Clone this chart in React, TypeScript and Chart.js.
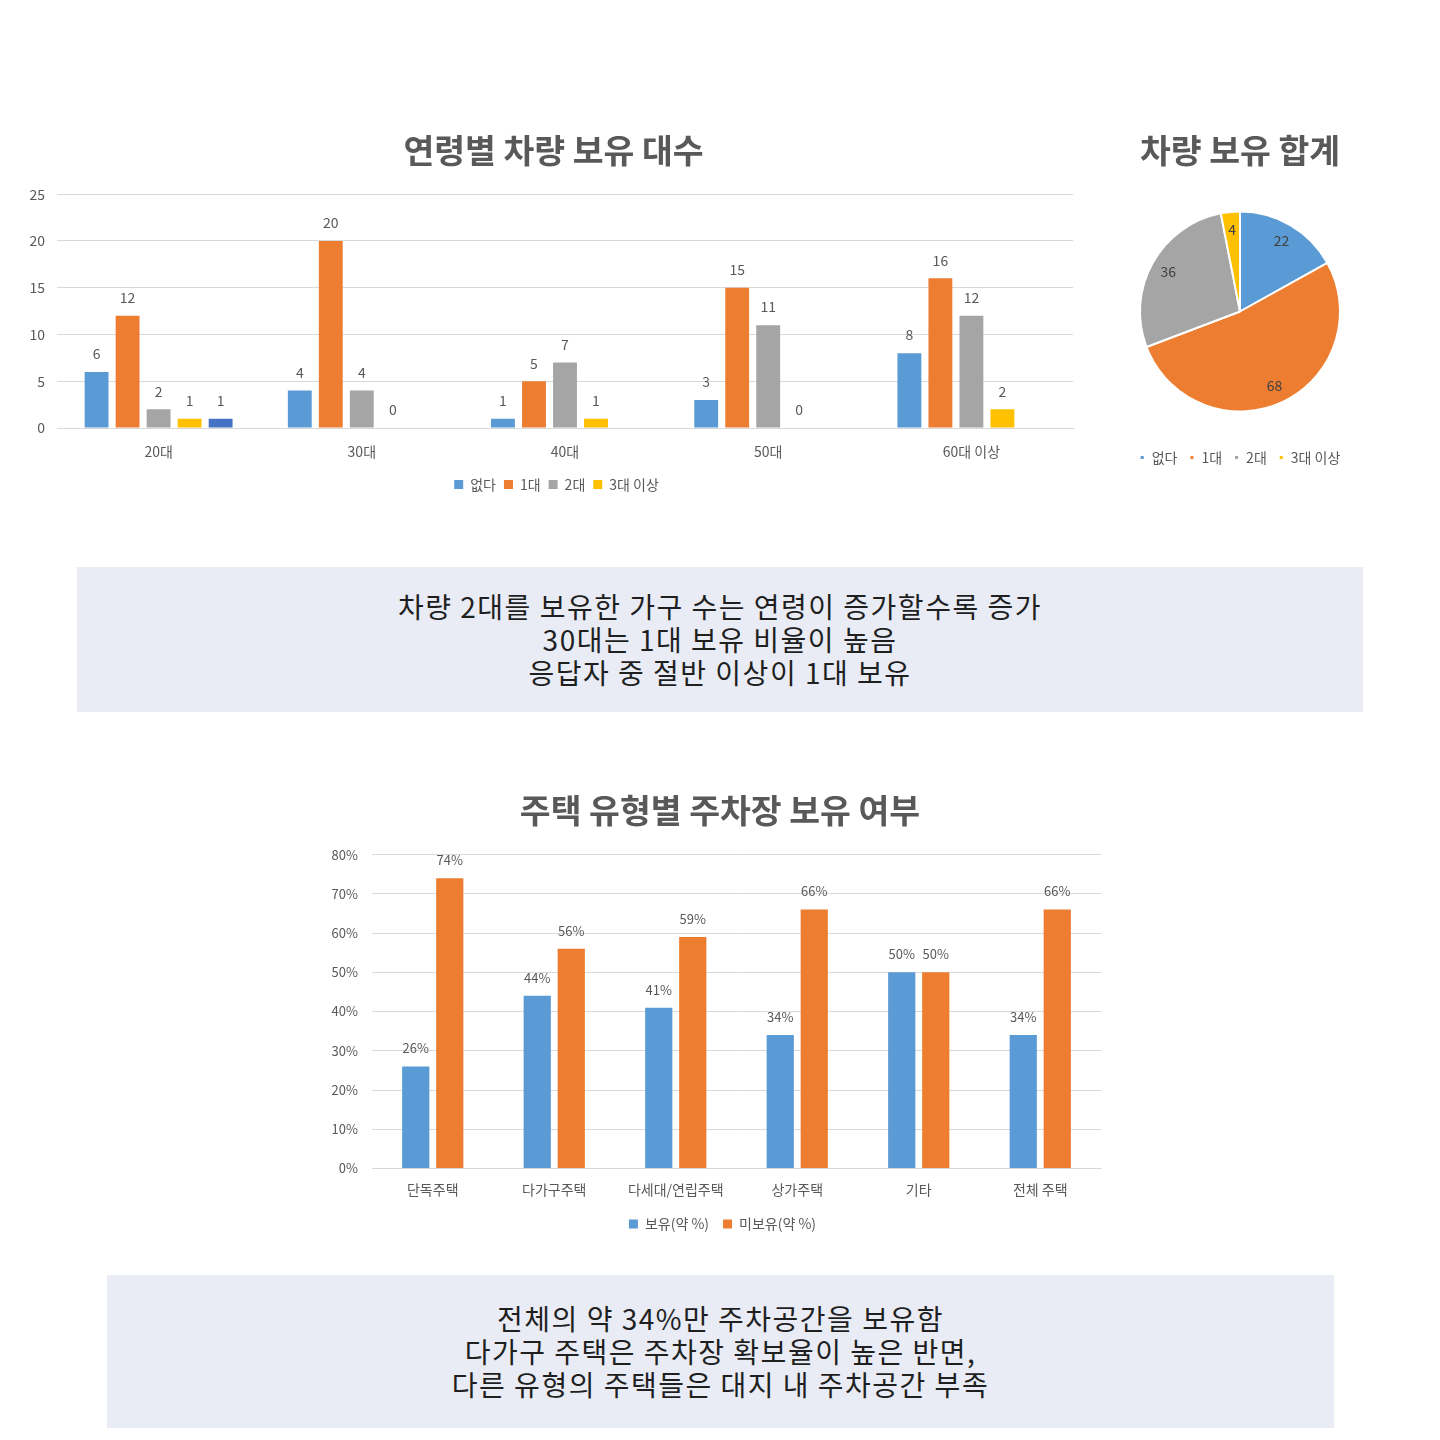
import React, { useEffect, useRef } from "react";
import { Chart, registerables } from "chart.js";

Chart.register(...registerables);

const FONT = "'Noto Sans CJK KR', 'Noto Sans', sans-serif";
Chart.defaults.font.family = FONT;

// ---- Data: chart 1 (연령별 차량 보유 대수)
const ageCategories = ["20대", "30대", "40대", "50대", "60대 이상"];
const ownershipNames = ["없다", "1대", "2대", "3대 이상"];
const noneValues = [6, 4, 1, 3, 8];
const oneValues = [12, 20, 5, 15, 16];
const twoValues = [2, 4, 7, 11, 12];
const threePlusValues = [1, 0, 1, 0, 2];
const extraValues: (number | null)[] = [1, null, null, null, null];
const ageAxisMax = 25;
const ageAxisStep = 5;

// ---- Data: pie (차량 보유 합계)
const totalLabels = ownershipNames;
const totalValues = [22, 68, 36, 4];

// ---- Data: chart 2 (주택 유형별 주차장 보유 여부)
const housingCategories = ["단독주택", "다가구주택", "다세대/연립주택", "상가주택", "기타", "전체 주택"];
const housingSeriesNames = ["보유(약 %)", "미보유(약 %)"];
const ownValues = [26, 44, 41, 34, 50, 34];
const notOwnValues = [74, 56, 59, 66, 50, 66];
const housingAxisMax = 80;
const housingAxisStep = 10;

const BLUE = "#5B9BD5";
const ORANGE = "#ED7D31";
const GRAY = "#A5A5A5";
const YELLOW = "#FFC000";
const DARKBLUE = "#4472C4";
const TEXT = "#595959";
const GRID = "#D9D9D9";
const TITLE_SIZE = 33.5;

const barLabelPlugin = (suffix: string, offset: number, size: number) => ({
  id: "barLabels",
  afterDatasetsDraw(chart: any) {
    const ctx = chart.ctx;
    ctx.save();
    ctx.font = `${size}px ${FONT}`;
    ctx.fillStyle = TEXT;
    ctx.textAlign = "center";
    ctx.textBaseline = "middle";
    chart.data.datasets.forEach((ds: any, di: number) => {
      const meta = chart.getDatasetMeta(di);
      meta.data.forEach((el: any, i: number) => {
        const v = ds.data[i];
        if (v === null || v === undefined) return;
        ctx.fillText(String(v) + suffix, el.x, el.y - offset);
      });
    });
    ctx.restore();
  },
});

// shifts the title and legend boxes horizontally after layout
const shiftPlugin = (titleDx: number, legendDx: number) => ({
  id: "shiftBoxes",
  afterLayout(chart: any) {
    const t = chart.titleBlock;
    if (t) {
      t.left += titleDx;
      t.right += titleDx;
    }
    const l = chart.legend;
    if (l) {
      l.left += legendDx;
      l.right += legendDx;
    }
  },
});

const pieLabelPlugin = {
  id: "pieLabels",
  afterDatasetsDraw(chart: any) {
    const ctx = chart.ctx;
    ctx.save();
    ctx.font = `14px ${FONT}`;
    ctx.fillStyle = "#404040";
    ctx.textAlign = "center";
    ctx.textBaseline = "middle";
    const meta = chart.getDatasetMeta(0);
    meta.data.forEach((el: any, i: number) => {
      const mid = (el.startAngle + el.endAngle) / 2;
      const r = el.outerRadius * 0.82;
      ctx.fillText(String(chart.data.datasets[0].data[i]), el.x + Math.cos(mid) * r, el.y + Math.sin(mid) * r);
    });
    ctx.restore();
  },
};

function ChartCanvas({ left, top, width, height, makeConfig }: any) {
  const ref = useRef<HTMLCanvasElement | null>(null);
  useEffect(() => {
    if (!ref.current) return;
    const chart = new Chart(ref.current, makeConfig());
    return () => chart.destroy();
  }, []);
  return (
    <canvas
      ref={ref}
      width={width}
      height={height}
      style={{ position: "absolute", left, top, width, height }}
    />
  );
}

const ageConfig = (): any => ({
  type: "bar",
  data: {
    labels: ageCategories,
    datasets: [
      { label: ownershipNames[0], data: noneValues, backgroundColor: BLUE },
      { label: ownershipNames[1], data: oneValues, backgroundColor: ORANGE },
      { label: ownershipNames[2], data: twoValues, backgroundColor: GRAY },
      { label: ownershipNames[3], data: threePlusValues, backgroundColor: YELLOW },
      { label: "", data: extraValues, backgroundColor: DARKBLUE },
    ],
  },
  options: {
    responsive: false,
    animation: false,
    devicePixelRatio: 1,
    datasets: { bar: { categoryPercentage: 0.763, barPercentage: 0.77 } },
    layout: { padding: { left: 0, right: 17, top: 0, bottom: 8.5 } },
    plugins: {
      title: {
        display: true,
        text: "연령별 차량 보유 대수",
        color: TEXT,
        font: { size: TITLE_SIZE, weight: "bold", family: FONT },
        padding: { top: 5, bottom: 24 },
      },
      legend: {
        position: "bottom",
        labels: {
          boxWidth: 9,
          boxHeight: 9,
          color: TEXT,
          font: { size: 14, family: FONT },
          padding: 8,
          filter: (item: any) => item.datasetIndex < 4,
        },
      },
      tooltip: { enabled: false },
    },
    scales: {
      y: {
        min: 0,
        max: ageAxisMax,
        afterFit: (s: any) => { s.width = 37; },
        ticks: { stepSize: ageAxisStep, color: TEXT, font: { size: 14 }, padding: 12 },
        grid: { color: GRID, drawTicks: false },
        border: { display: false },
      },
      x: {
        afterFit: (s: any) => { s.height = 41.5; },
        grid: { display: false, drawTicks: false },
        border: { color: GRID },
        ticks: { color: TEXT, font: { size: 14 }, padding: 15 },
      },
    },
  },
  plugins: [barLabelPlugin("", 18, 14), shiftPlugin(7, 10)],
});

const pieConfig = (): any => ({
  type: "pie",
  data: {
    labels: totalLabels,
    datasets: [
      {
        data: totalValues,
        backgroundColor: [BLUE, ORANGE, GRAY, YELLOW],
        borderColor: "#ffffff",
        borderWidth: 2,
        radius: 100,
      },
    ],
  },
  options: {
    responsive: false,
    animation: false,
    devicePixelRatio: 1,
    layout: { padding: { left: 0, right: 0, top: 0, bottom: 5.5 } },
    plugins: {
      title: {
        display: true,
        text: "차량 보유 합계",
        color: TEXT,
        font: { size: TITLE_SIZE, weight: "bold", family: FONT },
        padding: { top: 10, bottom: 14.3 },
      },
      legend: {
        position: "bottom",
        labels: {
          boxWidth: 5,
          boxHeight: 5,
          color: TEXT,
          font: { size: 14, family: FONT },
          padding: 12,
        },
      },
      tooltip: { enabled: false },
    },
  },
  plugins: [pieLabelPlugin],
});

const housingConfig = (): any => ({
  type: "bar",
  data: {
    labels: housingCategories,
    datasets: [
      { label: housingSeriesNames[0], data: ownValues, backgroundColor: BLUE },
      { label: housingSeriesNames[1], data: notOwnValues, backgroundColor: ORANGE },
    ],
  },
  options: {
    responsive: false,
    animation: false,
    devicePixelRatio: 1,
    datasets: { bar: { categoryPercentage: 0.56, barPercentage: 0.8 } },
    layout: { padding: { left: 0, right: 19, top: 0, bottom: 4 } },
    plugins: {
      title: {
        display: true,
        text: "주택 유형별 주차장 보유 여부",
        color: TEXT,
        font: { size: TITLE_SIZE, weight: "bold", family: FONT },
        padding: { top: 10, bottom: 24.4 },
      },
      legend: {
        position: "bottom",
        labels: {
          boxWidth: 9,
          boxHeight: 9,
          color: TEXT,
          font: { size: 14, family: FONT },
          padding: 14,
        },
      },
      tooltip: { enabled: false },
    },
    scales: {
      y: {
        min: 0,
        max: housingAxisMax,
        afterFit: (s: any) => { s.width = 72; },
        ticks: {
          stepSize: housingAxisStep,
          color: TEXT,
          font: { size: 13 },
          padding: 14,
          callback: (v: any) => v + "%",
        },
        grid: { color: GRID, drawTicks: false },
        border: { display: false },
      },
      x: {
        afterFit: (s: any) => { s.height = 34.5; },
        grid: { display: false, drawTicks: false },
        border: { color: GRID },
        ticks: { color: TEXT, font: { size: 14 }, padding: 13 },
      },
    },
  },
  plugins: [barLabelPlugin("%", 18, 13), shiftPlugin(19.5, 22)],
});

const boxText = {
  position: "absolute" as const,
  background: "#E9ECF5",
  display: "flex",
  flexDirection: "column" as const,
  alignItems: "center",
  justifyContent: "center",
  fontFamily: FONT,
  fontSize: 28,
  letterSpacing: "1.5px",
  lineHeight: "33px",
  color: "#1f1f1f",
  textAlign: "center" as const,
};

export default function App() {
  return (
    <div style={{ position: "absolute", left: 0, top: 0, width: 1440, height: 1440, background: "#ffffff" }}>
      <ChartCanvas left={20} top={125} width={1070} height={385} makeConfig={ageConfig} />
      <ChartCanvas left={1100} top={120} width={280} height={360} makeConfig={pieConfig} />
      <div style={{ ...boxText, left: 77, top: 567, width: 1286, height: 145 }}>
        <div>차량 2대를 보유한 가구 수는 연령이 증가할수록 증가</div>
        <div>30대는 1대 보유 비율이 높음</div>
        <div>응답자 중 절반 이상이 1대 보유</div>
      </div>
      <ChartCanvas left={300} top={780} width={820} height={465} makeConfig={housingConfig} />
      <div style={{ ...boxText, left: 107, top: 1275, width: 1227, height: 153 }}>
        <div>전체의 약 34%만 주차공간을 보유함</div>
        <div>다가구 주택은 주차장 확보율이 높은 반면,</div>
        <div>다른 유형의 주택들은 대지 내 주차공간 부족</div>
      </div>
    </div>
  );
}
